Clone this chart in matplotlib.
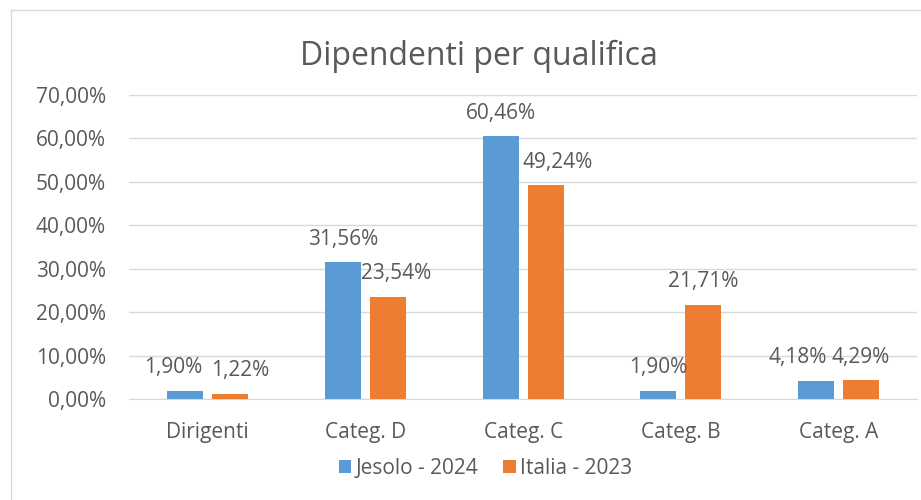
import numpy as np
import matplotlib.pyplot as plt
from matplotlib.lines import Line2D

categorie = ["Dirigenti", "Categ. D", "Categ. C", "Categ. B", "Categ. A"]
jesolo_2024 = [1.90, 31.56, 60.46, 1.90, 4.18]
italia_2023 = [1.22, 23.54, 49.24, 21.71, 4.29]
serie = ["Jesolo - 2024", "Italia - 2023"]
yticks = [0, 10, 20, 30, 40, 50, 60, 70]

plt.rcParams['font.family'] = ['Open Sans', 'DejaVu Sans']
txt = "#595959"
fs = 15

fig = plt.figure(figsize=(9.21, 5.0), dpi=100)
ax = fig.add_axes([0.140, 0.202, 0.856, 0.608])

# cornice esterna
fig.add_artist(Line2D([0.012, 1.0], [0.98, 0.98], color="#D9D9D9", lw=1, transform=fig.transFigure))
fig.add_artist(Line2D([0.012, 0.012], [0.0, 0.98], color="#D9D9D9", lw=1, transform=fig.transFigure))

x = np.arange(len(categorie))
w = 0.228
off = 0.143
b1 = ax.bar(x - off, jesolo_2024, w, color="#5B9BD5", label=serie[0], zorder=3)
b2 = ax.bar(x + off, italia_2023, w, color="#ED7D31", label=serie[1], zorder=3)

# spostamenti delle etichette come in Excel (punti)
sposta1 = [-8.6, 0, 0, 0, -13]
sposta2 = [7.2, 5.8, 8.6, 0, 0]
for bars, vals, sp in [(b1, jesolo_2024, sposta1), (b2, italia_2023, sposta2)]:
    for b, v, dx in zip(bars, vals, sp):
        ax.annotate(f"{v:.2f}%".replace(".", ","), (b.get_x() + b.get_width() / 2, v),
                    xytext=(dx, 12.5), textcoords="offset points", ha="center", va="baseline",
                    fontsize=fs, color=txt)

ax.set_xlim(-0.5, len(categorie) - 0.5)
ax.set_ylim(0, 70)
ax.set_yticks(yticks)
ax.set_yticklabels([f"{t:.2f}%".replace(".", ",") for t in yticks], fontsize=fs, color=txt)
ax.set_xticks(x)
ax.set_xticklabels(categorie, fontsize=fs, color=txt)
ax.tick_params(length=0)
ax.tick_params(axis="y", pad=16.5)
ax.tick_params(axis="x", pad=16.5)
ax.grid(axis="y", color="#D9D9D9", lw=1, zorder=0)
for s in ["top", "right", "left"]:
    ax.spines[s].set_visible(False)
ax.spines["bottom"].set_color("#D9D9D9")

fig.text(0.52, 0.888, "Dipendenti per qualifica", ha="center", va="center", fontsize=23, color=txt)
fig.legend(loc="center", bbox_to_anchor=(0.527, 0.063), ncol=2, frameon=False, fontsize=fs,
           handlelength=0.6, handleheight=0.6, handletextpad=0.2, columnspacing=1.2, labelcolor=txt)

plt.savefig("out.png", dpi=100)
